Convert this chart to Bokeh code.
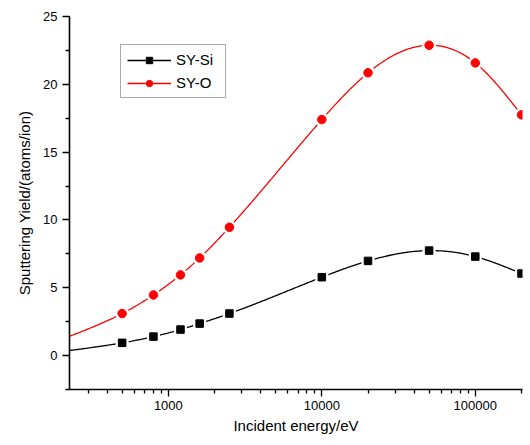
import numpy as np
from bokeh.plotting import figure
from bokeh.models import Range1d, FixedTicker, PrintfTickFormatter, Legend, LegendItem
from bokeh.embed import file_html
from bokeh.resources import INLINE

# ---- data ----
energy = [500, 800, 1200, 1600, 2500, 10000, 20000, 50000, 100000, 200000]
sy_si = [0.94, 1.40, 1.92, 2.36, 3.10, 5.78, 6.98, 7.74, 7.30, 6.05]
sy_o = [3.10, 4.47, 5.95, 7.20, 9.46, 17.40, 20.85, 22.88, 21.58, 17.75]
# where the fitted curves start at the left edge of the plot
curve_start_energy = 227
curve_start_si = 0.37
curve_start_o = 1.42

x_major = [1000, 10000, 100000]
x_minor = [m * d for d in (100, 1000, 10000, 100000) for m in range(2, 10)]
y_major = [0, 5, 10, 15, 20, 25]
y_minor = [-2.5, 2.5, 7.5, 12.5, 17.5, 22.5]


def natural_spline(xk, yk, xs):
    xk = np.asarray(xk, float)
    yk = np.asarray(yk, float)
    n = len(xk)
    h = np.diff(xk)
    A = np.zeros((n, n))
    b = np.zeros(n)
    A[0, 0] = 1
    A[-1, -1] = 1
    for i in range(1, n - 1):
        A[i, i - 1] = h[i - 1]
        A[i, i] = 2 * (h[i - 1] + h[i])
        A[i, i + 1] = h[i]
        b[i] = 6 * ((yk[i + 1] - yk[i]) / h[i] - (yk[i] - yk[i - 1]) / h[i - 1])
    M = np.linalg.solve(A, b)
    idx = np.clip(np.searchsorted(xk, xs) - 1, 0, n - 2)
    x0, x1 = xk[idx], xk[idx + 1]
    hh = x1 - x0
    return (M[idx] * (x1 - xs) ** 3 / (6 * hh) + M[idx + 1] * (xs - x0) ** 3 / (6 * hh)
            + (yk[idx] / hh - M[idx] * hh / 6) * (x1 - xs)
            + (yk[idx + 1] / hh - M[idx + 1] * hh / 6) * (xs - x0))


def curve(y_start, ys):
    xk = np.log10([curve_start_energy] + energy)
    yk = [y_start] + list(ys)
    xs = np.linspace(xk[0], xk[-1], 400)
    return 10 ** xs, natural_spline(xk, yk, xs)


p = figure(width=526, height=437, x_axis_type="log",
           x_range=Range1d(227, 203000), y_range=Range1d(-2.5, 25),
           output_backend="svg", toolbar_location=None,
           min_border_left=69, min_border_right=4, min_border_top=16, min_border_bottom=48)
p.outline_line_color = None
p.xgrid.visible = False
p.ygrid.visible = False

p.xaxis.ticker = FixedTicker(ticks=x_major, minor_ticks=x_minor)
p.xaxis.formatter = PrintfTickFormatter(format="%d")
p.yaxis.ticker = FixedTicker(ticks=y_major, minor_ticks=y_minor)

for ax in (p.xaxis, p.yaxis):
    ax.axis_line_width = 1.6
    ax.major_tick_line_width = 1.3
    ax.minor_tick_line_width = 1.3
    ax.major_tick_in = 0
    ax.minor_tick_in = 0
    ax.major_tick_out = 7
    ax.minor_tick_out = 4
    ax.major_label_text_font = "Liberation Sans"
    ax.major_label_text_font_size = "13px"
    ax.major_label_text_color = "black"
    ax.axis_label_text_font = "Liberation Sans"
    ax.axis_label_text_font_size = "15px"
    ax.axis_label_text_font_style = "normal"
    ax.axis_label_text_color = "black"

p.xaxis.axis_label = "Incident energy/eV"
p.yaxis.axis_label = "Sputtering Yield/(atoms/ion)"
p.xaxis.major_label_standoff = 4
p.xaxis.axis_label_standoff = 4
p.yaxis.major_label_standoff = 5
p.yaxis.axis_label_standoff = 7

xs_si, ys_si = curve(curve_start_si, sy_si)
xs_o, ys_o = curve(curve_start_o, sy_o)

l_si = p.line(xs_si, ys_si, line_color="black", line_width=1.3)
l_o = p.line(xs_o, ys_o, line_color="#ff0000", line_width=1.3)

# small gaps round the symbols
p.scatter(energy, sy_si, marker="square", size=13, fill_color="white", line_color=None)
p.scatter(energy, sy_o, marker="circle", size=14, fill_color="white", line_color=None)

m_si = p.scatter(energy, sy_si, marker="square", size=7.5, fill_color="black", line_color="black")
m_o = p.scatter(energy, sy_o, marker="circle", size=8.5, fill_color="#ff0000", line_color="#ff0000")

legend = Legend(items=[LegendItem(label="SY-Si", renderers=[l_si, m_si]),
                       LegendItem(label="SY-O", renderers=[l_o, m_o])],
                location=(51, 291))
legend.glyph_width = 44
legend.glyph_height = 16
legend.spacing = 6
legend.padding = 6
legend.margin = 0
legend.label_standoff = 5
legend.label_width = 43
legend.label_text_font = "Liberation Sans"
legend.label_text_font_size = "15px"
legend.label_text_color = "black"
legend.border_line_color = "#555555"
legend.border_line_width = 1
legend.background_fill_alpha = 1
p.add_layout(legend, "center")

open("out.html", "w").write(file_html(p, INLINE))
